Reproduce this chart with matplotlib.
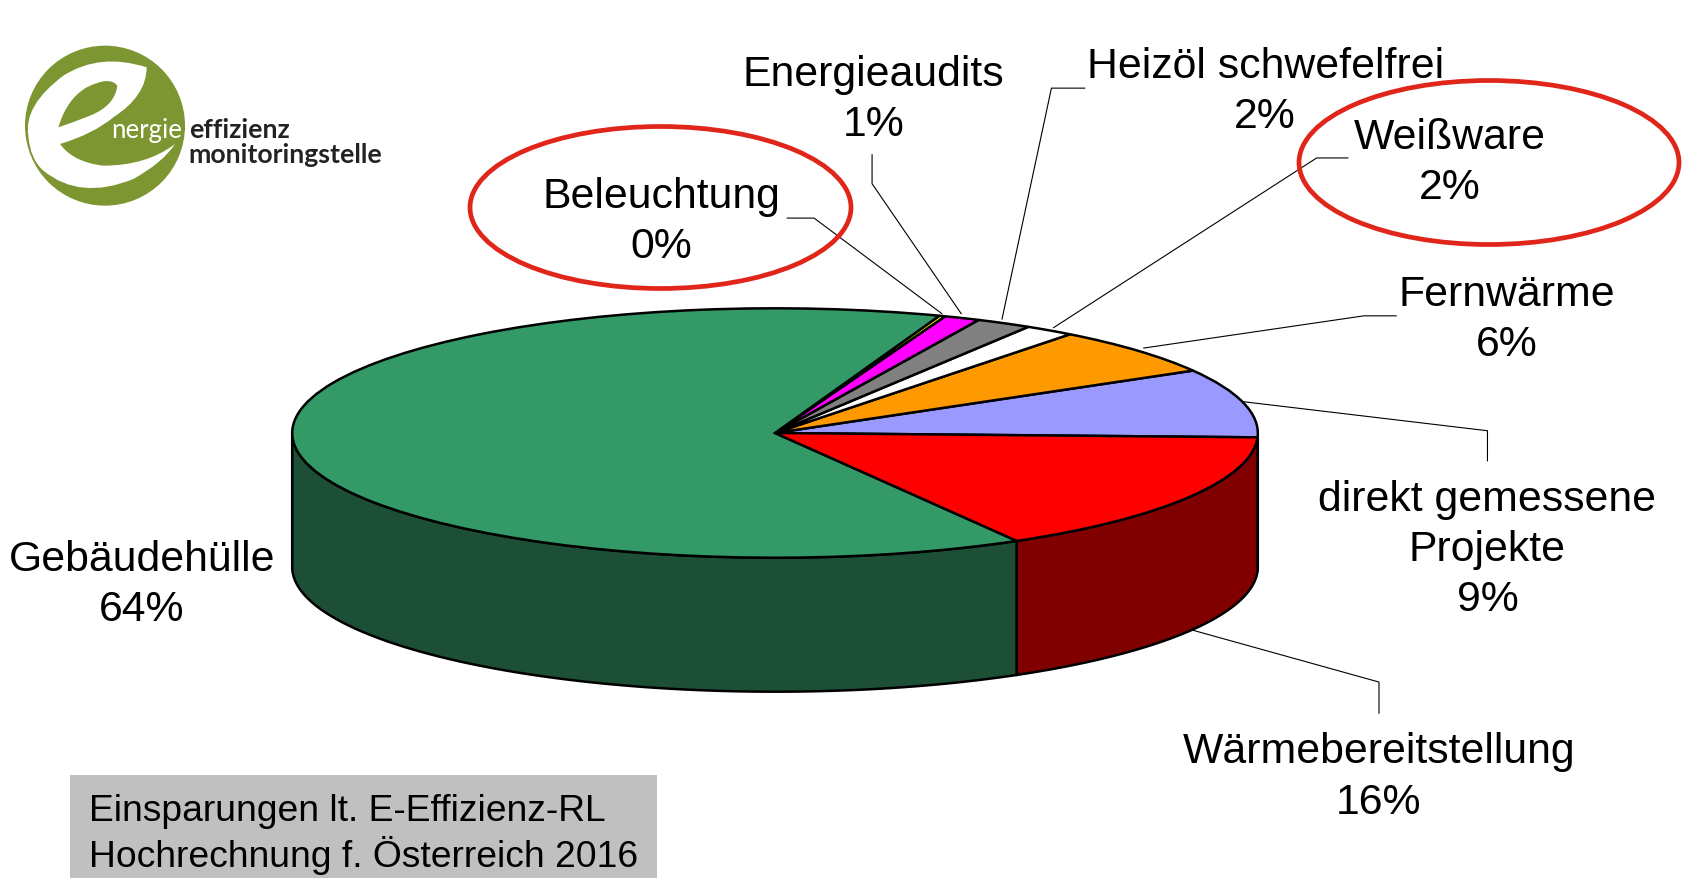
import numpy as np
from matplotlib import pyplot as plt
from matplotlib.patches import Ellipse, PathPatch, Rectangle, Circle
from matplotlib.path import Path

W, H = 1684, 879
S = 1684 / 1568

# counter-clockwise from the right edge of the pie
names = ["direkt gemessene\nProjekte", "Fernwärme", "Weißware", "Heizöl schwefelfrei",
         "Energieaudits", "Beleuchtung", "Gebäudehülle", "Wärmebereitstellung"]
values = [8.9, 6.2, 1.67, 1.86, 1.2, 0.2, 63.9, 16.1]
shown = ["9%", "6%", "2%", "2%", "1%", "0%", "64%", "16%"]
top_colors = ["#9999ff", "#ff9900", "#ffffff", "#808080", "#ff00ff", "#ffff00", "#339966", "#ff0000"]
side_colors = ["#4d4d80", "#804d00", "#808080", "#404040", "#800080", "#808000", "#1c4f35", "#800000"]
start = -2

label_pos = [(1385, 512), (1403, 298), (1350, 152), (1178, 86), (813, 93), (616, 207), (132, 545), (1284, 724)]
leaders = [
    [(1385, 430), (1385, 402), (1158, 375)],
    [(1300, 295), (1270, 295), (1065, 325)],
    [(1255, 148), (1226, 148), (981, 306)],
    [(1010, 83), (979, 83), (933, 298)],
    [(812, 145), (812, 172), (895, 293)],
    [(733, 204), (758, 204), (877, 293)],
    [(1284, 665), (1284, 636), (1108, 587)],
]

plt.rcParams["font.family"] = ["Liberation Sans", "DejaVu Sans"]
fig = plt.figure(figsize=(W / 100, H / 100), dpi=100, facecolor="white")

# pie axes: unit circle squashed to the ellipse on the page
cx, cy, rx, ry, depth = 775.0, 434.0, 482.8, 124.7, 134.0
ax = fig.add_axes([0, 0, 1, 1])
ax.pie(values, colors=top_colors, startangle=start, counterclock=True,
       wedgeprops={"edgecolor": "black", "linewidth": 1.8, "zorder": 5})
ax.set_aspect("auto")
ax.set_xlim(-cx / rx, (W - cx) / rx)
ax.set_ylim((cy - H) / ry, cy / ry)
ax.axis("off")

# side wall, only where the rim faces the viewer
d = depth / ry
edges = start + np.cumsum([0] + values) / sum(values) * 360
for i in range(len(values)):
    a = max(edges[i], 180)
    b = min(edges[i + 1], 360)
    if b > a:
        t = np.radians(np.linspace(a, b, 120))
        xs = np.r_[np.cos(t), np.cos(t[::-1])]
        ys = np.r_[np.sin(t), np.sin(t[::-1]) - d]
        ax.fill(xs, ys, facecolor=side_colors[i], edgecolor="black", linewidth=1.8, zorder=2)
    # the last wedge runs past 360 when the start angle is negative
    a = max(edges[i] + 360, 180)
    b = min(edges[i + 1] + 360, 360)
    if b > a:
        t = np.radians(np.linspace(a, b, 120))
        xs = np.r_[np.cos(t), np.cos(t[::-1])]
        ys = np.r_[np.sin(t), np.sin(t[::-1]) - d]
        ax.fill(xs, ys, facecolor=side_colors[i], edgecolor="black", linewidth=1.8, zorder=2)

# everything else in page pixels
page = fig.add_axes([0, 0, 1, 1], facecolor="none")
page.set_xlim(0, W)
page.set_ylim(H, 0)
page.axis("off")

for pts in leaders:
    page.plot([p[0] * S for p in pts], [p[1] * S for p in pts], color="black", lw=0.8, zorder=6)

for name, pct, (x, y) in zip(names, shown, label_pos):
    page.text(x * S, y * S, name + "\n" + pct, ha="center", va="center", fontsize=30.8,
              linespacing=1.33, color="black", zorder=8)

page.add_patch(Ellipse((660.5, 208.5), 381, 162, fill=False, edgecolor="#e0261a", lw=3.4, zorder=7))
page.add_patch(Ellipse((1489, 163.5), 380, 164, fill=False, edgecolor="#e0261a", lw=3.4, zorder=7))

page.add_patch(Rectangle((70, 776), 587, 103, facecolor="#c0c0c0", edgecolor="none"))
page.text(89, 812, "Einsparungen lt. E-Effizienz-RL", fontsize=26.8, va="center", ha="left")
page.text(89, 856, "Hochrechnung f. Österreich 2016", fontsize=26.8, va="center", ha="left")


# logo, outlines read in the zoomed crop
def zp(x, y):
    return (x / 3, y / 3 + 20)


def blob(pts, color):
    verts = [zp(*pts[0])]
    codes = [Path.MOVETO]
    for c, p in pts[1:]:
        verts += [zp(*c), zp(*p)]
        codes += [Path.CURVE3, Path.CURVE3]
    page.add_patch(PathPatch(Path(verts, codes), facecolor=color, edgecolor="none", zorder=3))


green = "#7d9632"
page.add_patch(Circle(zp(315, 320), 80, facecolor=green, edgecolor="none", zorder=2))
blob([(440, 145), ((300, 100), (190, 170)), ((70, 260), (85, 350)), ((90, 420), (130, 455)),
      ((240, 545), (400, 480)), ((490, 430), (525, 375)), ((440, 440), (310, 440)),
      ((220, 430), (180, 375)), ((280, 345), (340, 295)), ((440, 230), (440, 145))], "white")
blob([(175, 325), ((200, 240), (260, 205)), ((330, 170), (352, 200)), ((345, 260), (270, 290)),
      ((220, 310), (175, 325))], green)
page.text(*zp(332, 332), "nergie", color="white", fontsize=18.5, fontfamily="Lato", va="center", ha="left", zorder=4)
page.text(*zp(566, 330), "effizienz", color="#222222", fontsize=19.2, fontfamily="Lato", fontweight="bold",
          va="center", ha="left", zorder=4)
page.text(*zp(566, 405), "monitoringstelle", color="#222222", fontsize=19.2, fontfamily="Lato", fontweight="bold",
          va="center", ha="left", zorder=4)

plt.savefig("out.png", dpi=100)
